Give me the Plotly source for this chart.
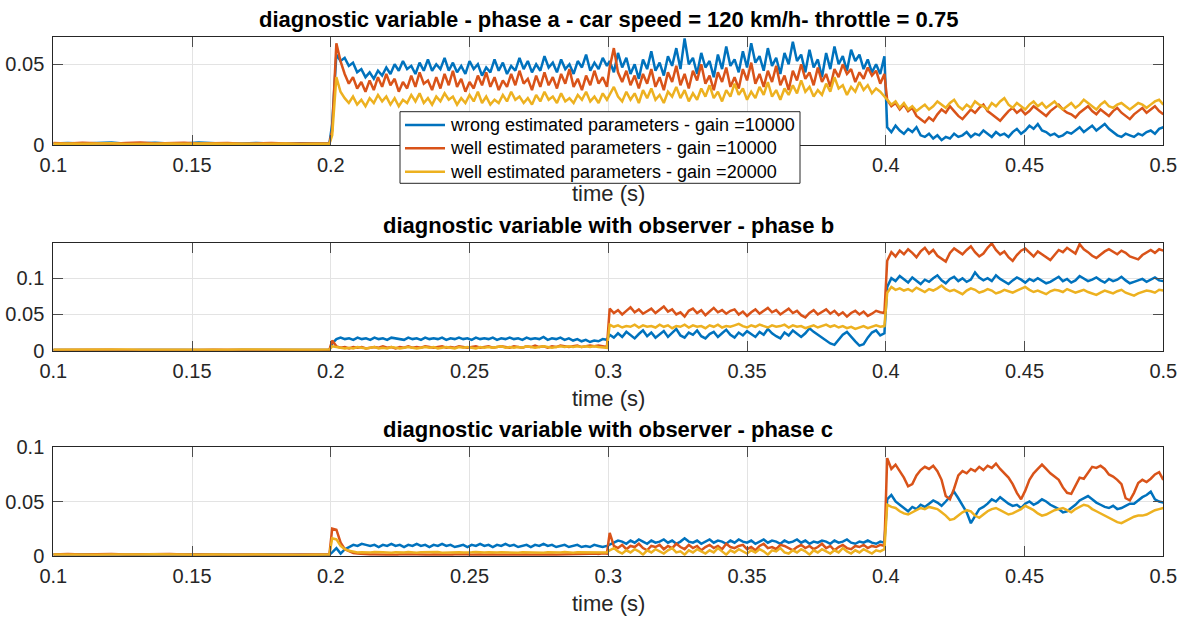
import numpy as np
import plotly.graph_objects as go

# ---------------- data (values in units of 1e-3) ----------------
# time segments (s): before fault, 0.2-0.3, 0.3-0.4, 0.4-0.5
SEGMENTS = [(0.100, 0.1995), (0.2005, 0.2995), (0.3005, 0.3995), (0.4005, 0.5)]

# phase a
a_blue = [
    [1.0,1.3,0.9,1.2,1.5,0.8,1.1,1.4,1.0,0.9,1.6,1.2,0.8,1.0,1.3,0.9,0.7,1.1,0.9,0.9],
    [13,56,52,54,49,51,45,47,42,45,41,46,43,48,44,50,46,52,47,49,44,51,46,53,46,50,47,54,46,51,45,49,44,52,47,50,43,48,45,53,46,51,44,49,46,54,47,52,45,50,46,55,48,51,45,53,47,50,44,52,48,56,46,51,47,54,49],
    [52,45,57,48,54,44,50,41,53,47,58,46,51,43,55,49,60,47,66,50,54,44,57,48,52,42,56,47,61,49,53,45,58,48,63,51,55,46,60,49,54,44,57,50,64,52,56,45,59,48,53,42,57,47,61,50,55,46,59,52,56,47,53,45,50,44,55],
    [11,8,12,9,7,10,8,11,6,5,7,4,6,3,5,4,7,5,6,8,5,7,6,9,7,5,8,6,7,5,8,10,7,9,12,10,13,9,8,6,7,5,6,8,7,9,11,8,10,12,9,11,13,10,8,6,5,7,6,5,7,6,8,9,7,10,11],
]
a_red = [
    [1.2,0.9,1.4,1.1,0.8,1.3,1.5,1.0,1.2,1.4,0.9,1.1,1.3,0.8,1.0,1.2,0.9,0.8,1.0,1.0],
    [9,63,52,44,38,42,35,39,33,40,34,42,36,44,37,41,33,39,35,43,36,45,38,40,34,42,35,44,37,46,36,41,33,39,35,43,37,45,36,42,34,40,36,44,37,46,38,41,34,43,36,45,37,42,35,44,38,47,36,41,34,43,37,46,38,42,36],
    [48,60,45,39,46,37,43,35,44,38,47,36,42,34,45,39,49,37,44,35,46,40,50,38,43,34,45,39,48,36,42,35,47,40,51,38,44,36,46,39,49,37,43,34,46,40,50,41,45,37,48,39,44,36,47,42,50,44,47,39,45,41,48,43,46,38,44],
    [28,24,26,22,25,21,23,18,16,14,17,15,19,22,20,24,21,18,16,19,22,20,23,25,21,19,17,15,18,21,23,20,22,19,21,24,22,20,18,21,23,25,22,20,19,17,20,22,24,21,19,22,20,18,21,23,20,18,16,19,21,23,20,22,24,21,19],
]
a_yellow = [
    [0.8,1.0,0.7,0.9,1.1,0.6,0.9,0.8,1.0,0.7,0.9,0.8,1.0,0.6,0.8,0.7,0.9,0.6,0.8,0.7],
    [6,42,33,29,26,30,25,28,24,29,26,31,27,30,25,29,24,28,26,31,27,32,26,29,25,30,27,32,28,30,25,29,26,31,27,33,26,30,25,28,26,31,27,33,28,30,26,29,25,31,27,33,28,30,26,32,27,29,26,31,28,33,27,30,26,32,28],
    [31,36,30,27,33,28,32,26,34,29,35,28,31,26,33,30,36,29,34,27,32,28,35,30,37,29,33,27,34,30,38,31,35,28,33,29,36,31,39,30,34,28,35,31,37,32,40,33,36,30,34,31,38,33,42,35,37,31,36,33,39,34,37,32,35,33,30],
    [28,25,27,23,26,22,24,21,23,25,22,24,27,25,23,26,28,24,22,25,23,27,25,24,22,26,24,27,29,25,23,26,24,22,25,27,24,26,23,25,27,24,22,24,26,23,25,28,26,24,22,25,27,24,23,25,26,24,22,24,26,25,23,25,27,28,25],
]

# phase b
b_blue = [
    [1.0,0.8,1.2,0.9,1.1,0.7,1.0,1.3,0.9,0.8,1.1,1.0,0.7,0.9,1.2,0.8,1.0,0.9,1.1,1.0],
    [10,16,18,16,17,15,18,16,17,15,18,16,17,15,18,17,16,15,18,16,17,15,18,16,17,16,18,15,17,16,18,16,17,15,18,16,17,16,18,15,17,16,18,16,17,15,18,16,17,16,19,15,17,16,18,15,17,14,16,13,15,12,14,13,16,15],
    [22,18,24,19,26,21,17,23,28,20,25,18,22,27,19,24,30,21,18,25,22,28,20,17,23,26,19,24,29,22,18,25,21,27,23,19,26,22,30,24,20,17,25,21,28,23,19,24,31,26,22,18,14,10,8,15,22,26,19,13,7,9,18,25,28,21,24],
    [88,100,96,103,99,94,101,97,92,98,95,100,104,97,93,99,102,96,100,95,98,108,101,97,100,96,104,99,95,92,97,101,98,94,99,96,100,97,93,95,98,102,96,99,94,97,103,100,96,98,101,97,94,99,96,98,102,97,93,95,97,99,95,98,101,97,96],
]
b_red = [
    [0.9,1.1,0.8,1.0,1.2,0.9,0.7,1.0,1.1,0.8,0.9,1.2,1.0,0.8,0.9,1.1,0.7,1.0,0.9,1.2],
    [14,6,4,5,3,5,4,5,3,4,5,4,6,4,5,3,5,4,6,4,5,4,6,5,4,5,6,4,5,4,6,5,4,5,6,4,5,6,4,5,6,5,4,6,5,4,6,5,7,5,6,4,6,5,7,6,5,6,7,5,6,7,6,7,6,5],
    [58,52,56,50,55,60,53,57,51,55,58,52,56,61,54,57,50,53,47,55,58,52,56,49,54,59,53,56,51,55,57,50,54,48,53,57,51,55,59,53,56,50,54,58,52,55,49,46,52,56,50,54,57,51,55,49,53,47,52,55,50,54,48,51,55,53,52],
    [124,136,130,138,133,140,135,129,137,142,134,139,131,127,123,135,141,137,133,139,144,136,130,134,142,148,139,133,137,129,124,132,138,141,135,130,137,133,128,125,132,139,136,142,138,134,147,140,136,131,128,133,137,140,136,133,138,135,130,128,126,132,136,139,135,140,138],
]
b_yellow = [
    [1.4,1.6,1.2,1.5,1.3,1.7,1.4,1.2,1.6,1.3,1.5,1.4,1.2,1.6,1.3,1.5,1.2,1.4,1.3,1.5],
    [6,5,4,3,4,3,5,4,3,4,5,3,4,3,5,4,3,4,5,4,3,4,5,4,5,3,4,5,4,3,5,4,5,4,3,5,4,5,4,5,6,4,5,4,5,4,6,5,4,5,6,5,4,5,6,5,6,5,6,5,6,5,6,5,4,4],
    [36,33,35,32,34,33,36,32,35,33,34,32,36,33,35,31,34,33,36,32,35,33,34,31,35,33,36,32,34,33,35,37,34,32,35,33,36,34,32,35,33,34,36,32,35,33,34,31,33,35,32,34,36,33,35,32,34,31,33,30,32,34,31,33,35,33,34],
    [80,88,84,86,83,85,82,87,84,81,85,83,86,90,85,82,84,81,78,83,86,84,80,82,85,83,79,81,84,82,80,83,85,88,84,81,83,80,78,82,84,83,81,85,83,80,82,84,81,79,77,80,83,81,79,82,84,80,78,76,79,81,83,82,80,84,83],
]

# phase c
c_blue = [
    [1.0,1.2,0.8,1.1,1.3,0.9,1.0,1.2,0.8,1.1,0.9,1.0,0.8,1.1,0.9,1.0,0.8,0.9,1.0,0.9],
    [3,7,2,6,8,10,9,11,10,9,10,8,10,9,11,9,10,8,10,9,11,9,10,8,10,9,11,9,10,8,9,10,8,10,9,11,9,10,8,10,9,11,9,10,8,9,10,8,10,9,11,9,10,8,9,10,8,9,10,8,9,8,10,9,8,9],
    [10,12,14,13,11,14,12,15,13,11,14,12,13,15,12,14,11,13,16,13,12,14,11,13,15,12,14,13,11,14,12,15,13,12,14,11,13,15,12,14,13,11,14,12,13,15,12,14,11,13,12,14,13,11,14,12,13,15,12,11,13,12,14,12,11,13,12],
    [52,56,50,47,44,41,45,43,47,45,48,51,49,46,50,55,59,53,47,40,30,36,43,45,48,52,50,54,51,48,46,47,44,48,50,47,49,52,50,47,45,43,40,41,44,47,51,53,55,52,49,47,45,44,46,43,44,46,48,48,51,54,56,59,52,50,49],
]
c_red = [
    [1.2,1.5,1.0,1.3,1.6,1.1,1.4,1.2,1.5,1.0,1.3,1.1,0.9,1.2,1.0,0.8,1.1,0.9,1.0,1.2],
    [25,24,12,6,4,2.5,2,1.5,1.2,1,1,0.8,1.1,0.9,1,0.7,1.2,1,0.8,1,1.1,0.9,1,0.8,1.2,1,0.9,1.1,0.8,1,1.2,0.9,1,0.8,1.1,1,0.9,1.2,1,0.8,1,1.1,0.9,1,0.8,1.2,1,0.9,1.1,1,0.8,1,1.2,0.9,1,1.1,0.8,1,1.2,1,1.4,1.8,2.0,1.6,2.2,1.9],
    [21,9,7,10,6,9,8,11,7,5,9,8,10,6,9,7,11,8,6,10,7,9,5,8,10,7,9,6,11,8,7,9,10,6,8,5,9,11,7,8,6,10,9,7,5,8,10,7,9,6,8,11,7,9,5,8,10,7,6,9,8,10,7,9,8,10,9],
    [90,80,84,78,72,64,66,74,79,82,80,83,78,70,55,52,62,74,78,76,80,78,82,79,83,81,85,80,76,72,66,58,52,60,70,76,80,84,80,76,73,70,63,58,57,64,72,71,76,82,81,83,80,75,73,70,66,53,51,58,67,70,68,71,75,77,70],
]
c_yellow = [
    [1.0,0.8,1.2,0.9,1.1,0.8,1.0,1.3,0.9,1.1,0.8,1.0,0.7,0.9,1.1,0.8,1.0,0.7,0.9,1.0],
    [16,15,9,6,4.5,3.5,3,3.2,2.8,3,3.3,2.9,3.1,3,2.7,3.2,3,2.9,3.3,3,2.8,3.1,3.2,2.9,3,3.3,2.8,3,3.1,2.9,3.2,3,2.8,3.1,3.3,2.9,3,3.2,2.8,3,3.1,2.9,3.3,3,2.8,3.2,3,2.9,3.1,3,2.8,3.2,3,3.1,2.9,3.3,3,2.8,3.1,3,2.9,3.2,3,2.9,3.1,3],
    [5,7,4,2,5,3,6,4,1,5,3,6,4,2,5,7,3,4,1,5,3,6,4,2,5,3,7,4,1,5,3,6,4,2,5,3,6,4,1,5,4,7,3,2,5,3,6,4,1,5,3,6,4,2,5,3,7,4,2,5,3,6,4,2,5,4,6],
    [47,45,44,41,39,38,40,42,44,43,45,44,43,40,37,33,34,37,40,42,41,37,35,38,41,43,44,42,40,38,39,41,43,46,44,42,39,37,38,40,42,43,44,42,40,43,45,47,46,43,41,39,37,35,33,31,30,32,34,36,37,37,38,40,42,43,44],
]

SERIES_NAMES = ["wrong estimated parameters - gain =10000",
                "well estimated parameters - gain =10000",
                "well estimated parameters - gain =20000"]
TITLES = ["diagnostic variable - phase a - car speed = 120 km/h- throttle = 0.75",
          "diagnostic variable with observer - phase b",
          "diagnostic variable with observer - phase c"]
X_TICKS = [0.1, 0.15, 0.2, 0.25, 0.3, 0.35, 0.4, 0.45, 0.5]
X_TICK_LABELS = ["0.1", "0.15", "0.2", "0.25", "0.3", "0.35", "0.4", "0.45", "0.5"]
# in the first panel the legend box hides the labels 0.25, 0.3 and 0.35
X_TICK_LABELS_TOP = ["0.1", "0.15", "0.2", "", "", "", "0.4", "0.45", "0.5"]
Y_TICKS = [[0, 0.05], [0, 0.05, 0.1], [0, 0.05, 0.1]]
Y_TICK_LABELS = [["0", "0.05"], ["0", "0.05", "0.1"], ["0", "0.05", "0.1"]]
Y_MAX = [0.0667, 0.149, 0.1]

# ---------------- styling ----------------
COLORS = ["#0072BD", "#D95319", "#EDB120"]
FONT = "Liberation Sans, Arial, Helvetica, sans-serif"
W, H = 1190, 619
X0, X1 = 53.3, 1163.3
PANELS = [(37.3, 145.0), (242.7, 350.7), (447.3, 555.7)]  # top, bottom in px
LEG_BOX = (400, 111.7, 800, 183.3)  # legend box, px
LEG_ROWS = [125.0, 148.3, 171.7]


def build(segs):
    xs, ys = [], []
    for (t0, t1), vals in zip(SEGMENTS, segs):
        xs.extend(np.linspace(t0, t1, len(vals)).tolist())
        ys.extend((np.array(vals, dtype=float) / 1000.0).tolist())
    return xs, ys


fig = go.Figure()
groups = [(a_blue, a_red, a_yellow), (b_blue, b_red, b_yellow), (c_blue, c_red, c_yellow)]
for p, grp in enumerate(groups):
    for s, segs in enumerate(grp):
        x, y = build(segs)
        fig.add_trace(go.Scatter(
            x=x, y=y, mode="lines", line=dict(color=COLORS[s], width=2.5),
            name=SERIES_NAMES[s], showlegend=False,
            xaxis="x" if p == 0 else f"x{p+1}", yaxis="y" if p == 0 else f"y{p+1}"))

axis_common = dict(showline=True, linecolor="#262626", linewidth=1, mirror="ticks",
                   ticks="inside", ticklen=10, tickcolor="#4d4d4d", tickwidth=1,
                   showgrid=True, gridcolor="#e3e3e3", gridwidth=1, zeroline=False,
                   automargin=False,
                   tickfont=dict(family=FONT, size=20, color="#262626"))

layout = dict(width=W, height=H, margin=dict(l=0, r=0, t=0, b=0, autoexpand=False),
              paper_bgcolor="white", plot_bgcolor="white", showlegend=False)
annotations = []
shapes = []
for p, (top, bot) in enumerate(PANELS):
    xa = "xaxis" if p == 0 else f"xaxis{p+1}"
    ya = "yaxis" if p == 0 else f"yaxis{p+1}"
    yname = "y" if p == 0 else f"y{p+1}"
    xname = "x" if p == 0 else f"x{p+1}"
    layout[xa] = dict(axis_common, domain=[X0 / W, X1 / W], range=[0.1, 0.5],
                      tickvals=X_TICKS,
                      ticktext=X_TICK_LABELS_TOP if p == 0 else X_TICK_LABELS,
                      anchor=yname, ticklabelstandoff=2)
    layout[ya] = dict(axis_common, domain=[1 - bot / H, 1 - top / H], range=[0, Y_MAX[p]],
                      tickvals=Y_TICKS[p], ticktext=Y_TICK_LABELS[p], anchor=xname,
                      ticklabelstandoff=4)
    annotations.append(dict(text="<b>" + TITLES[p] + "</b>", xref="paper", yref="paper",
                            x=(X0 + X1) / 2 / W, y=1 - (top - 17.5) / H,
                            xanchor="center", yanchor="middle", showarrow=False,
                            font=dict(family=FONT, size=22, color="#000000")))
    annotations.append(dict(text="time (s)", xref="paper", yref="paper",
                            x=(X0 + X1) / 2 / W, y=1 - (bot + 48) / H,
                            xanchor="center", yanchor="middle", showarrow=False,
                            font=dict(family=FONT, size=22, color="#262626")))

# legend (box, line samples and labels) for the first panel
bx0, by0, bx1, by1 = LEG_BOX
shapes.append(dict(type="rect", xref="paper", yref="paper", layer="above",
                   x0=bx0 / W, x1=bx1 / W, y0=1 - by1 / H, y1=1 - by0 / H,
                   fillcolor="white", line=dict(color="#262626", width=1)))
for s, ry in enumerate(LEG_ROWS):
    shapes.append(dict(type="line", xref="paper", yref="paper", layer="above",
                       x0=(bx0 + 5) / W, x1=(bx0 + 45) / W, y0=1 - ry / H, y1=1 - ry / H,
                       line=dict(color=COLORS[s], width=2.5)))
    annotations.append(dict(text=SERIES_NAMES[s], xref="paper", yref="paper",
                            x=(bx0 + 48) / W, y=1 - ry / H, xanchor="left", yanchor="middle",
                            showarrow=False,
                            font=dict(family=FONT, size=18, color="#000000")))

layout["annotations"] = annotations
layout["shapes"] = shapes
fig.update_layout(**layout)
fig.write_html("out.html")
